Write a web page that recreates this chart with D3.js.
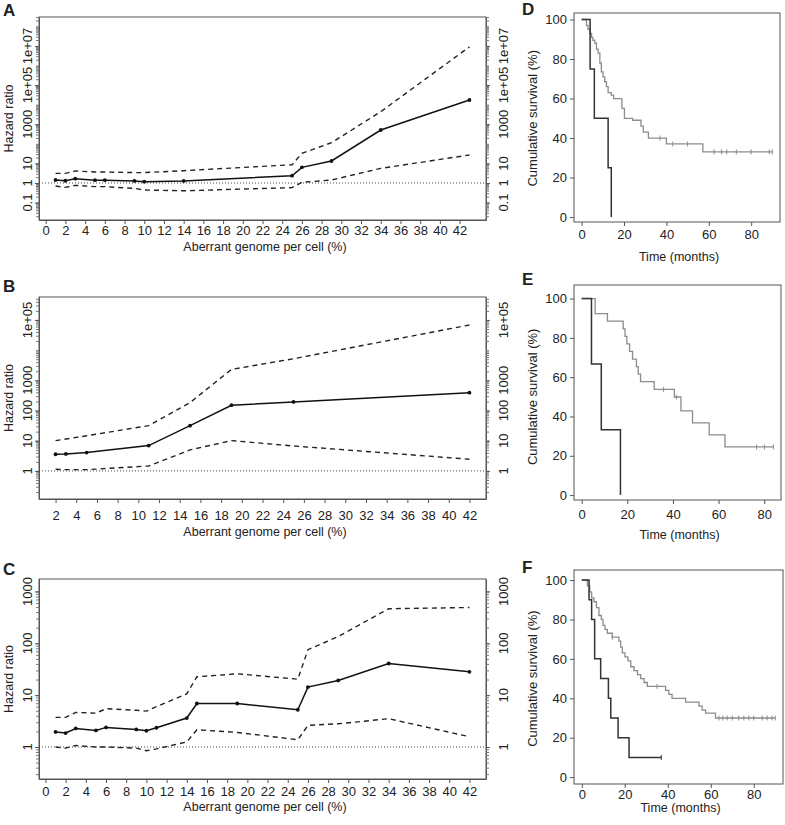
<!DOCTYPE html>
<html><head><meta charset="utf-8">
<script src="https://cdn.jsdelivr.net/npm/d3@7"></script>
<style>
body{margin:0;background:#fff}
svg{display:block}
text{font-family:"Liberation Sans",Arial,Helvetica,sans-serif;fill:#222}
</style>
</head><body>
<svg id="c" width="785" height="825"></svg>
<script>
// ---------- Panel A data ----------
const aX     = [1,2,3,5,6,9,10,14,25,26,29,34,43];
const aHR    = [1.42,1.3,1.66,1.4,1.4,1.27,1.17,1.27,2.36,6.3,13.3,510,17400];
const aUpper = [3.1,3.1,4.1,3.65,3.65,3.4,3.4,4.25,8.6,33,114,4400,9e6];
const aLower = [0.7,0.6,0.76,0.65,0.65,0.53,0.44,0.4,0.58,1.08,1.42,5.6,27];
const aXTicks = d3.range(0,43,2);
const aYLabels = [[0.1,"0.1"],[1,"1"],[10,"10"],[1000,"1000"],[1e5,"1e+05"],[1e7,"1e+07"]];

// ---------- Panel B data ----------
const bX     = [2,3,5,11,15,19,25,42];
const bHR    = [3.57,3.66,4.04,6.9,31.6,150,193,390];
const bUpper = [10.1,11.4,14.6,31.6,183,2300,5200,68000];
const bLower = [1.14,1.1,1.1,1.46,4.96,10.1,6.7,2.44];
const bXTicks = d3.range(2,43,2);
const bYLabels = [[1,"1"],[10,"10"],[100,"100"],[1000,"1000"],[1e5,"1e+05"]];

// ---------- Panel C data ----------
const cX     = [1,2,3,5,6,9,10,11,14,15,19,25,26,29,34,42];
const cHR    = [1.95,1.86,2.28,2.09,2.39,2.18,2.06,2.35,3.62,6.9,6.9,5.23,14.3,19.2,40.8,28.2];
const cUpper = [3.72,3.72,4.64,4.5,5.47,5.1,4.93,5.98,10.6,22.6,25.8,20.3,75.2,135,464,490];
const cLower = [1.0,0.95,1.07,1.0,1.0,0.95,0.85,0.92,1.25,2.15,1.91,1.38,2.61,2.81,3.51,1.58];
const cXTicks = d3.range(0,43,2);
const cYLabels = [[1,"1"],[10,"10"],[100,"100"],[1000,"1000"]];

// ---------- Panel D data (Kaplan-Meier) ----------
const dBlack = [[0,100],[4,75],[6,50],[12.5,25],[14,0]];
const dGray  = [[0,100],[2.3,97],[3,95],[3.9,93],[4.7,91],[5.3,89.5],[6.2,88],[7,85],[7.8,83],[8.6,78],[9.3,73.5],[10.1,71],[10.9,68.5],[11.7,66],[12.5,63],[14,61.7],[15.1,60],[19,55],[20.2,50],[24.1,49],[28,46],[29.1,43],[31.5,40],[40,37],[57.2,33]];
const dGrayEnd = 90;
const dGrayCens = [37,43,50,62.5,66,68.5,73,80,88.5,90];

// ---------- Panel E data ----------
const eBlack = [[0,100],[4.3,66.7],[8.6,33.3],[17,0]];
const eGray  = [[0,100],[5.9,92.3],[11.3,88.5],[18.2,84.6],[19,80.8],[19.8,76.9],[21,73.1],[22.3,69.2],[24,65.4],[24.8,61.5],[25.8,57.7],[31.8,53.8],[40.6,49.9],[43.5,42.8],[48.6,36.7],[55.9,30.6],[62.8,24.5]];
const eGrayEnd = 84;
const eGrayCens = [35.9,41.5,76.7,80.1,84];

// ---------- Panel F data ----------
const fBlack = [[0,100],[3.4,90],[4.6,80],[6,60],[8.8,50],[12.4,40],[13.5,30],[16.9,20],[22,10]];
const fBlackEnd = 37;
const fBlackCens = [37];
const fGray  = [[0,100],[2.6,97],[3.7,94],[4.6,91],[5.7,89],[6.8,86],[8,82],[9.1,80],[9.9,77],[10.8,75],[11.9,73],[14.2,71],[17.3,69],[18.1,66],[18.9,63],[20.1,61],[21.5,59],[22.8,56],[24.3,54],[25.9,52],[27.4,50],[29,48],[30.5,46],[39,44],[40.5,42],[42,40],[48.3,38],[54.5,36],[56,34],[57.6,32.5],[62.2,30]];
const fGrayEnd = 90;
const fGrayCens = [14.2,35,63.8,65.6,67.6,70,73,75.4,77.7,80,83.9,86.2,88.5,90];

const kmYTicks = [0,20,40,60,80,100];
const kmXTicks = [0,20,40,60,80];

const svg = d3.select("#c");
const AX = "#555";

function logMinor(dom){
  const out=[];
  const lo=Math.floor(Math.log10(dom[0])), hi=Math.ceil(Math.log10(dom[1]));
  for(let e=lo;e<=hi;e++) for(let k=1;k<10;k++){
    const v=k*Math.pow(10,e);
    if(v>=dom[0]&&v<=dom[1]) out.push(v);
  }
  return out;
}

function hrPanel(p){
  const g = svg.append("g");
  const x = d3.scaleLinear().domain(p.xDomain).range([p.box.l,p.box.r]);
  const y = d3.scaleLog().domain(p.yDomain).range([p.box.b,p.box.t]);
  g.append("rect").attr("x",p.box.l).attr("y",p.box.t)
    .attr("width",p.box.r-p.box.l).attr("height",p.box.b-p.box.t)
    .attr("fill","none").attr("stroke",AX).attr("stroke-width",1);
  const xa = g.append("g").attr("transform",`translate(0,${p.box.b})`)
    .call(d3.axisBottom(x).tickValues(p.xTicks).tickSize(4).tickPadding(p.xPad).tickSizeOuter(0));
  xa.select(".domain").attr("stroke",AX);
  xa.selectAll("line").attr("stroke",AX);
  xa.selectAll("text").style("font-size","13px").attr("fill","#222");
  g.append("text").attr("x",265).attr("y",p.xTitleY)
    .attr("text-anchor","middle").style("font-size","12.5px").text("Aberrant genome per cell (%)");
  const minor = logMinor(p.yDomain);
  const majors = p.yLabels.map(d=>d[0]);
  [["L",p.box.l,p.yLabL],["R",p.box.r,p.yLabR]].forEach(([side,xx,lx])=>{
    const mk = ()=> side==="L"? d3.axisLeft(y) : d3.axisRight(y);
    const ag = g.append("g").attr("transform",`translate(${xx},0)`)
      .call(mk().tickValues(minor).tickSize(3).tickFormat("").tickSizeOuter(0));
    ag.select(".domain").attr("stroke",AX);
    ag.selectAll("line").attr("stroke","#777");
    g.append("g").attr("transform",`translate(${xx},0)`)
      .call(mk().tickValues(majors).tickSize(4).tickFormat("").tickSizeOuter(0))
      .call(s=>s.select(".domain").remove())
      .selectAll("line").attr("stroke",AX);
    p.yLabels.forEach(([v,t])=>{
      g.append("text").attr("transform",`translate(${lx},${y(v)}) rotate(-90)`)
        .attr("text-anchor","middle").attr("dy","0.35em").style("font-size","13px").text(t);
    });
  });
  g.append("text").attr("transform",`translate(13,${(p.box.t+p.box.b)/2}) rotate(-90)`)
    .attr("text-anchor","middle").style("font-size","12.5px").text("Hazard ratio");
  g.append("line").attr("x1",p.box.l).attr("x2",p.box.r).attr("y1",y(1)).attr("y2",y(1))
    .attr("stroke","#444").attr("stroke-width",1).attr("stroke-dasharray","1,2");
  const line = d3.line().x(d=>x(d[0])).y(d=>y(d[1]));
  [p.up,p.lo].forEach(arr=>{
    g.append("path").datum(p.xs.map((v,i)=>[v,arr[i]])).attr("d",line)
      .attr("fill","none").attr("stroke","#222").attr("stroke-width",1.4).attr("stroke-dasharray","5,4");
  });
  const pts = p.xs.map((v,i)=>[v,p.hr[i]]);
  g.append("path").datum(pts).attr("d",line).attr("fill","none").attr("stroke","#111").attr("stroke-width",1.5);
  g.selectAll(null).data(pts).enter().append("circle")
    .attr("cx",d=>x(d[0])).attr("cy",d=>y(d[1])).attr("r",1.9).attr("fill","#111");
  g.append("text").attr("x",3).attr("y",p.letterY).style("font-size","17px").style("font-weight","bold").attr("fill","#111").text(p.letter);
}

function kmPanel(p){
  const g = svg.append("g");
  const x = d3.scaleLinear().domain(p.xDomain).range([p.box.l,p.box.r]);
  const y = d3.scaleLinear().domain(p.yDomain).range([p.box.b,p.box.t]);
  g.append("rect").attr("x",p.box.l).attr("y",p.box.t)
    .attr("width",p.box.r-p.box.l).attr("height",p.box.b-p.box.t)
    .attr("fill","none").attr("stroke",AX).attr("stroke-width",1);
  const xa = g.append("g").attr("transform",`translate(0,${p.box.b})`)
    .call(d3.axisBottom(x).tickValues(kmXTicks).tickSize(4).tickPadding(p.xPad).tickSizeOuter(0));
  xa.select(".domain").remove();
  xa.selectAll("line").attr("stroke",AX);
  xa.selectAll("text").style("font-size","13px").attr("fill","#222");
  const ya = g.append("g").attr("transform",`translate(${p.box.l},0)`)
    .call(d3.axisLeft(y).tickValues(kmYTicks).tickSize(4).tickPadding(3).tickSizeOuter(0));
  ya.select(".domain").remove();
  ya.selectAll("line").attr("stroke",AX);
  ya.selectAll("text").style("font-size","13px").attr("fill","#222");
  g.append("text").attr("x",(p.box.l+p.box.r)/2+2).attr("y",p.xTitleY).attr("text-anchor","middle")
    .style("font-size","12.5px").text("Time (months)");
  g.append("text").attr("transform",`translate(537,${(y(0)+y(100))/2}) rotate(-90)`)
    .attr("text-anchor","middle").style("font-size","13px").text("Cumulative survival (%)");
  const step = d3.line().curve(d3.curveStepAfter).x(d=>x(d[0])).y(d=>y(d[1]));
  function curve(pts,end,cens,col,w){
    const arr = pts.slice();
    if(end!=null) arr.push([end,pts[pts.length-1][1]]);
    g.append("path").datum(arr).attr("d",step).attr("fill","none").attr("stroke",col).attr("stroke-width",w);
    (cens||[]).forEach(t=>{
      let s=pts[0][1]; pts.forEach(d=>{ if(d[0]<=t) s=d[1]; });
      g.append("line").attr("x1",x(t)).attr("x2",x(t)).attr("y1",y(s)-2.5).attr("y2",y(s)+2.5)
        .attr("stroke",col).attr("stroke-width",1);
    });
  }
  curve(p.gray,p.grayEnd,p.grayCens,"#8c8c8c",1.3);
  curve(p.black,p.blackEnd,p.blackCens,"#333",1.5);
  g.append("text").attr("x",522).attr("y",p.letterY).style("font-size","17px").style("font-weight","bold").attr("fill","#111").text(p.letter);
}

hrPanel({box:{l:39,r:486,t:17,b:220}, xDomain:[-0.68,44.68], yDomain:[Math.pow(10,-1.89),Math.pow(10,8.48)],
  xs:aX,hr:aHR,up:aUpper,lo:aLower,xTicks:aXTicks,yLabels:aYLabels,xPad:2,xTitleY:250.5,yLabL:27,yLabR:503,letter:"A",letterY:16});
hrPanel({box:{l:39,r:486,t:297,b:499}, xDomain:[0.4,43.6], yDomain:[Math.pow(10,-0.93),Math.pow(10,5.76)],
  xs:bX,hr:bHR,up:bUpper,lo:bLower,xTicks:bXTicks,yLabels:bYLabels,xPad:8,xTitleY:536,yLabL:27,yLabR:503,letter:"B",letterY:292});
hrPanel({box:{l:39,r:486,t:579,b:779}, xDomain:[-0.64,43.64], yDomain:[Math.pow(10,-0.617),Math.pow(10,3.24)],
  xs:cX,hr:cHR,up:cUpper,lo:cLower,xTicks:cXTicks,yLabels:cYLabels,xPad:4,xTitleY:811,yLabL:27,yLabR:503,letter:"C",letterY:575});

kmPanel({box:{l:574,r:780,t:13,b:222}, xDomain:[-3.6,93.6], yDomain:[-2.5,103.3], black:dBlack,gray:dGray,grayEnd:dGrayEnd,grayCens:dGrayCens,xPad:4,xTitleY:261,letter:"D",letterY:15});
kmPanel({box:{l:574,r:781,t:285,b:500}, xDomain:[-3.36,87.36], yDomain:[-2.5,106.9], black:eBlack,gray:eGray,grayEnd:eGrayEnd,grayCens:eGrayCens,xPad:6,xTitleY:539,letter:"E",letterY:285});
kmPanel({box:{l:574,r:783,t:570,b:784}, xDomain:[-3.6,93.6], yDomain:[-3.5,105.1], black:fBlack,blackEnd:fBlackEnd,blackCens:fBlackCens,gray:fGray,grayEnd:fGrayEnd,grayCens:fGrayCens,xPad:2,xTitleY:812,letter:"F",letterY:573});
</script>
</body></html>
